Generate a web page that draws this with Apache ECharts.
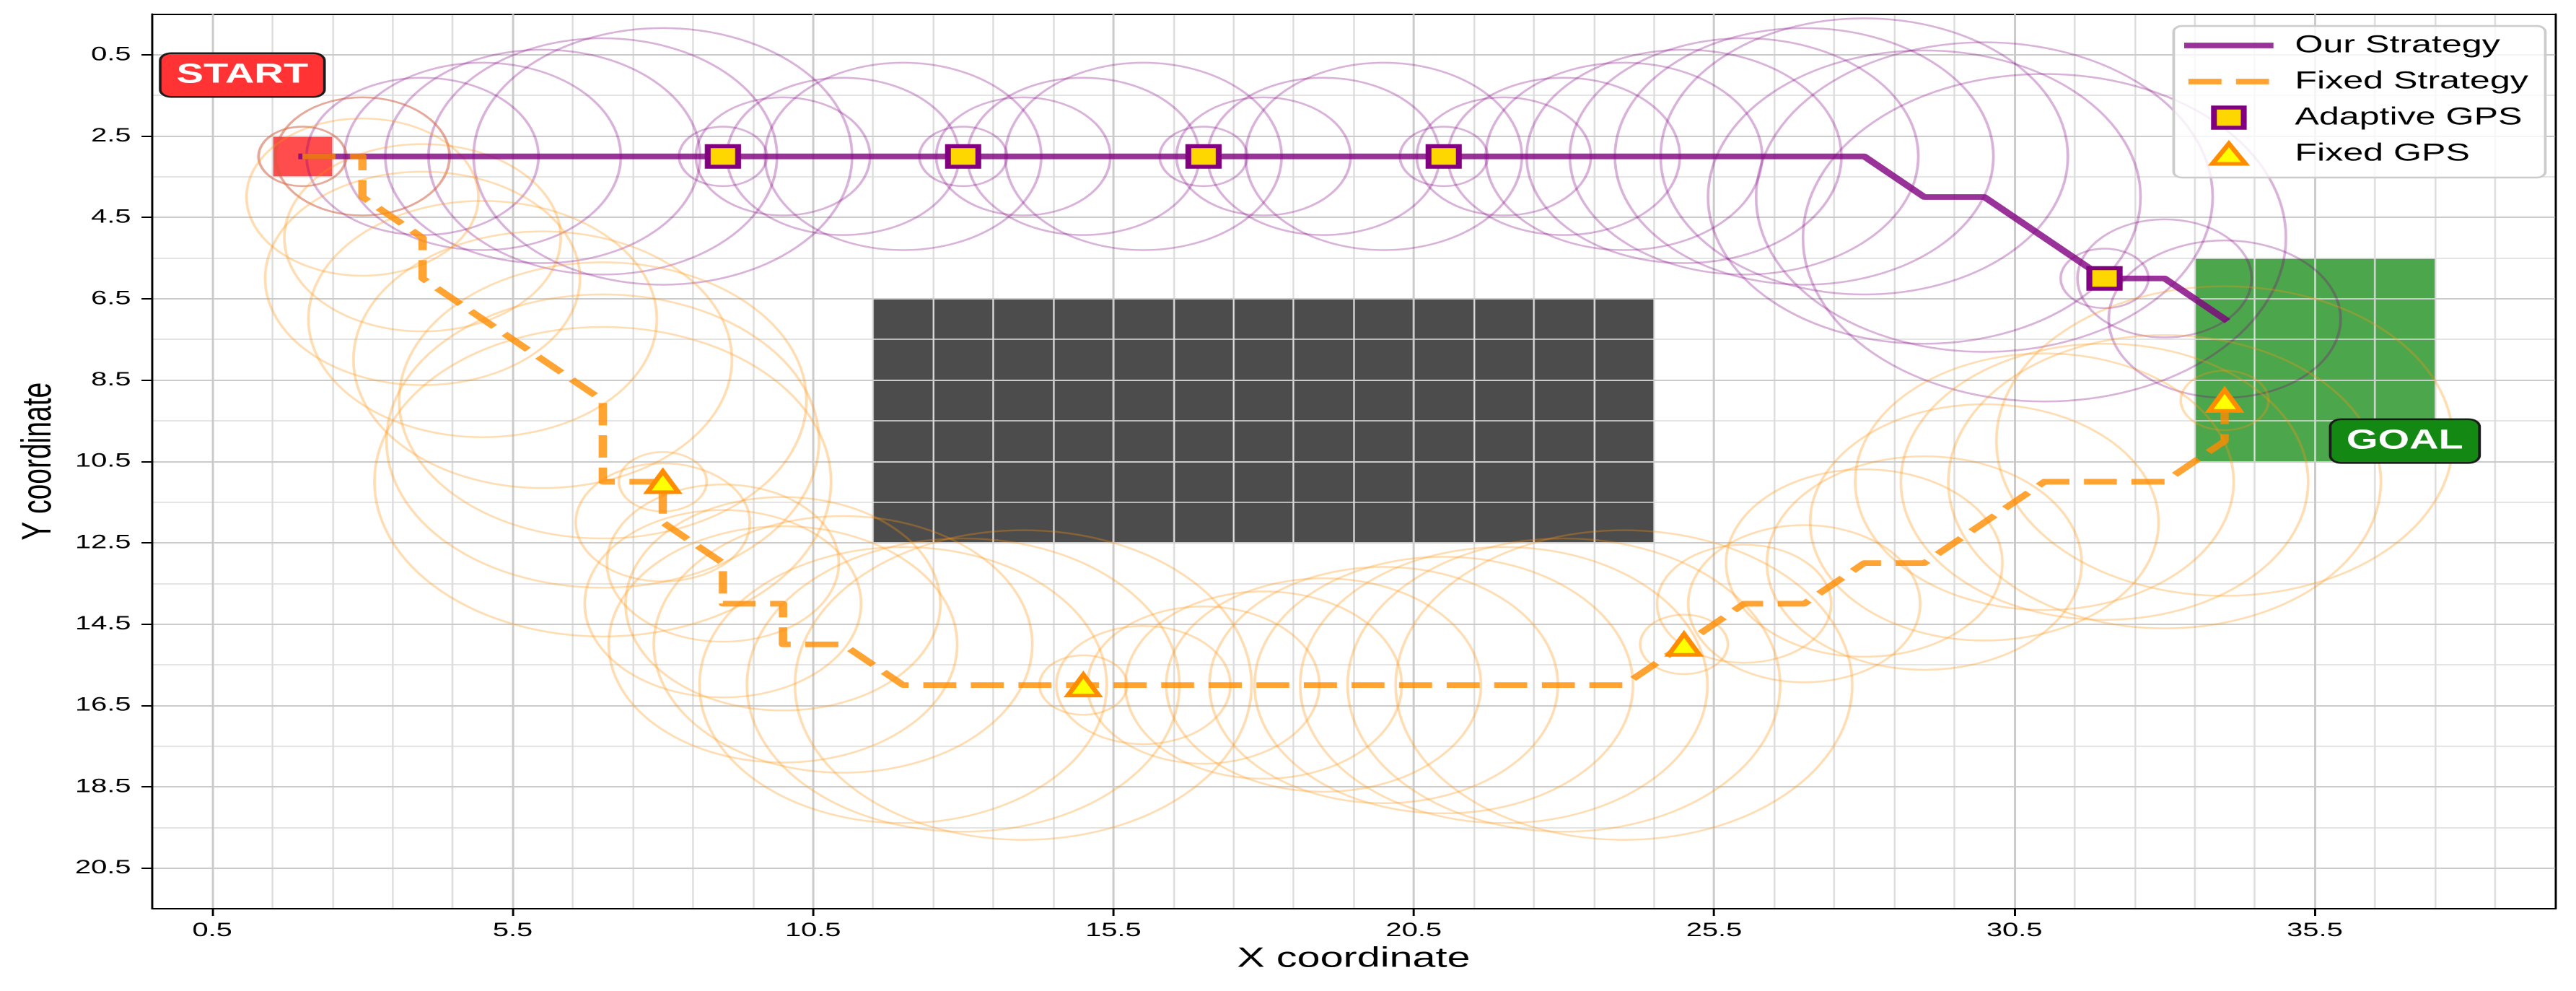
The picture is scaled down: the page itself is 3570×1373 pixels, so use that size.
<!DOCTYPE html>
<html>
<head>
<meta charset="utf-8">
<script src="https://cdn.jsdelivr.net/npm/echarts@6/dist/echarts.min.js"></script>
<style>
html, body { margin:0; padding:0; background:#fff; overflow:hidden; }
#stage { width:3570px; height:1373px; overflow:hidden; }
/* the reference is stretched sideways, so the chart is drawn narrower and widened */
#chart { width:2420px; height:1373px; transform:scaleX(1.475207); transform-origin:0 0; }
</style>
</head>
<body>
<div id="stage"><div id="chart"></div></div>
<script>
var FONT = '"Liberation Sans", Arial, Helvetica, sans-serif';

// tick labels
var xTicks = [0.5, 5.5, 10.5, 15.5, 20.5, 25.5, 30.5, 35.5];
var yTicks = [0.5, 2.5, 4.5, 6.5, 8.5, 10.5, 12.5, 14.5, 16.5, 18.5, 20.5];

// map cells
var obstacleCols = [12, 13, 14, 15, 16, 17, 18, 19, 20, 21, 22, 23, 24];
var obstacleRows = [7, 8, 9, 10, 11, 12];
var goalCols = [34, 35, 36, 37];
var goalRows = [6, 7, 8, 9, 10];
var startCell = [[2, 3]];

// paths
var ourPath = [[2,3],[3,3],[4,3],[5,3],[6,3],[7,3],[8,3],[9,3],[10,3],[11,3],[12,3],[13,3],[14,3],
  [15,3],[16,3],[17,3],[18,3],[19,3],[20,3],[21,3],[22,3],[23,3],[24,3],[25,3],[26,3],[27,3],[28,3],
  [29,4],[30,4],[31,5],[32,6],[33,6],[34,7]];
var ourRadius = [0.73,1.45,1.93,2.3,2.62,2.9,3.15, 0.73,1.45,1.93,2.3, 0.73,1.45,1.93,2.3,
  0.73,1.45,1.93,2.3, 0.73,1.45,1.93,2.3,2.62,2.9,3.15,3.39,3.6,3.8,4.02, 0.73,1.45,1.93];

var fixedPath = [[2,3],[3,3],[3,4],[4,5],[4,6],[5,7],[6,8],[7,9],[7,10],[7,11],[8,11],[8,12],[9,13],
  [9,14],[10,14],[10,15],[11,15],[12,16],[13,16],[14,16],[15,16],[16,16],[17,16],[18,16],[19,16],
  [20,16],[21,16],[22,16],[23,16],[24,16],[25,15],[26,14],[27,14],[28,13],[29,13],[30,12],[31,11],
  [32,11],[33,11],[34,10],[34,9]];
var fixedRadius = [0.73,1.45,1.93,2.3,2.62,2.9,3.15,3.39,3.6,3.8,
  0.73,1.45,1.93,2.3,2.62,2.9,3.15,3.39,3.6,3.8,
  0.73,1.45,1.93,2.3,2.62,2.9,3.15,3.39,3.6,3.8,
  0.73,1.45,1.93,2.3,2.62,2.9,3.15,3.39,3.6,3.8,
  0.73];

// GPS fixes
var adaptiveGps = [[9,3],[13,3],[17,3],[21,3],[32,6]];
var fixedGps = [[8,11],[15,16],[25,15],[34,9]];

// text tags
var tagNames = ['START', 'GOAL'];
var tagPos = [[1, 1], [37, 10]];

function cells(cols, rows) {
  var out = [];
  rows.forEach(function (r) {
    cols.forEach(function (c) { out.push([c, r]); });
  });
  return out;
}
function rings(path, radius) {
  return path.map(function (p, i) { return [p[0], p[1], radius[i]]; });
}

function cellRender(params, api) {
  var c = api.coord([api.value(0), api.value(1)]);
  var s = api.size([1, 1]);
  return {
    type: 'rect',
    shape: { x: c[0] - s[0] / 2, y: c[1] - s[1] / 2, width: s[0], height: s[1] },
    style: { fill: api.visual('color') }
  };
}
function ringRender(params, api) {
  var c = api.coord([api.value(0), api.value(1)]);
  var r = api.size([api.value(2), 0])[0];
  return {
    type: 'circle',
    shape: { cx: c[0], cy: c[1], r: r },
    style: { fill: 'none', stroke: api.visual('color'), lineWidth: 2.5 }
  };
}

var tagStyles = {
  START: { backgroundColor: '#FF3333' },
  GOAL: { backgroundColor: '#138813' }
};

var chart = echarts.init(document.getElementById('chart'), null, { renderer: 'canvas', devicePixelRatio: 2 });

chart.setOption({
  animation: false,
  backgroundColor: '#fff',
  grid: { left: 143, right: 19.7, top: 19.5, bottom: 114 },
  legend: {
    data: [
      { name: 'Our Strategy', itemStyle: { opacity: 0 }, lineStyle: { width: 7.8 } },
      { name: 'Fixed Strategy', itemStyle: { opacity: 0 }, lineStyle: { width: 7.8 } },
      { name: 'Adaptive GPS', icon: 'path://M0,0L10,0L10,10L0,10Z', itemStyle: { borderWidth: 5.5 } },
      { name: 'Fixed GPS', icon: 'path://M5,0L10,9L0,9Z', itemStyle: { borderWidth: 5 } }
    ],
    orient: 'vertical',
    left: 2042,
    top: 36,
    padding: [10, 16, 16, 10],
    itemWidth: 76,
    itemHeight: 28,
    itemGap: 16,
    selectedMode: false,
    backgroundColor: 'rgba(255,255,255,0.8)',
    borderColor: '#cccccc',
    borderWidth: 2.5,
    borderRadius: 8,
    textStyle: { fontSize: 34, color: '#000', fontFamily: FONT, padding: [0, 0, 0, 19] },
    z: 20
  },
  xAxis: [
    {
      type: 'value', min: -0.5, max: 39.5, interval: 1, position: 'bottom', z: 3,
      name: 'X coordinate', nameLocation: 'middle', nameGap: 50,
      nameTextStyle: { fontSize: 39, color: '#000', fontFamily: FONT },
      axisLine: { show: true, onZero: false, lineStyle: { color: '#000', width: 2 } },
      axisTick: { show: true, customValues: xTicks, length: 10, lineStyle: { color: '#000', width: 2 } },
      axisLabel: { customValues: xTicks, fontSize: 27, color: '#000', margin: 17, fontFamily: FONT },
      splitLine: { show: true, lineStyle: { color: '#cbcbcb', width: 2 } }
    },
    {
      type: 'value', min: -0.5, max: 39.5, interval: 1, position: 'top', z: 2,
      axisLine: { show: true, onZero: false, lineStyle: { color: '#000', width: 2 } },
      axisTick: { show: false }, axisLabel: { show: false },
      splitLine: { show: true, lineStyle: { color: '#dcdcdc', width: 1.6 } }
    }
  ],
  yAxis: [
    {
      type: 'value', inverse: true, min: -0.5, max: 21.5, interval: 1, position: 'left', z: 3,
      name: 'Y coordinate', nameLocation: 'middle', nameGap: 87, nameRotate: 90,
      nameTextStyle: { fontSize: 39, color: '#000', fontFamily: FONT },
      axisLine: { show: true, onZero: false, lineStyle: { color: '#000', width: 2 } },
      axisTick: { show: true, customValues: yTicks, length: 10, lineStyle: { color: '#000', width: 2 } },
      axisLabel: { customValues: yTicks, fontSize: 27, color: '#000', margin: 20, fontFamily: FONT },
      splitLine: { show: true, lineStyle: { color: '#cbcbcb', width: 2 } }
    },
    {
      type: 'value', inverse: true, min: -0.5, max: 21.5, interval: 1, position: 'right', z: 2,
      axisLine: { show: true, onZero: false, lineStyle: { color: '#000', width: 2 } },
      axisTick: { show: false }, axisLabel: { show: false },
      splitLine: { show: true, lineStyle: { color: '#dcdcdc', width: 1.6 } }
    }
  ],
  series: [
    { name: 'obstacle', type: 'custom', z: 1, renderItem: cellRender, itemStyle: { color: 'rgba(0,0,0,0.7)' },
      encode: { x: 0, y: 1 }, data: cells(obstacleCols, obstacleRows), silent: true },
    { name: 'goalArea', type: 'custom', z: 1, renderItem: cellRender, itemStyle: { color: 'rgba(0,128,0,0.7)' },
      encode: { x: 0, y: 1 }, data: cells(goalCols, goalRows), silent: true },
    { name: 'startCell', type: 'custom', z: 1, renderItem: cellRender, itemStyle: { color: 'rgba(255,0,0,0.7)' },
      encode: { x: 0, y: 1 }, data: startCell, silent: true },
    { name: 'ourRange', type: 'custom', z: 4, renderItem: ringRender, itemStyle: { color: 'rgba(128,0,128,0.3)' },
      encode: { x: 0, y: 1 }, data: rings(ourPath, ourRadius), silent: true, clip: true },
    { name: 'fixedRange', type: 'custom', z: 4, renderItem: ringRender, itemStyle: { color: 'rgba(255,150,20,0.32)' },
      encode: { x: 0, y: 1 }, data: rings(fixedPath, fixedRadius), silent: true, clip: true },
    {
      name: 'Our Strategy', type: 'line', z: 5, data: ourPath, symbol: 'none',
      itemStyle: { color: 'rgba(128,0,128,0.8)' },
      lineStyle: { color: 'rgba(128,0,128,0.8)', width: 7.8, cap: 'square', join: 'round' }
    },
    {
      name: 'Fixed Strategy', type: 'line', z: 6, data: fixedPath, symbol: 'none',
      itemStyle: { color: 'rgba(255,140,0,0.8)' },
      lineStyle: { color: 'rgba(255,140,0,0.8)', width: 7.8, type: [31, 13.7], cap: 'butt', join: 'round' }
    },
    {
      name: 'Adaptive GPS', type: 'scatter', z: 7, data: adaptiveGps, symbol: 'rect', symbolSize: 28.5,
      itemStyle: { color: '#FFD700', borderColor: '#800080', borderWidth: 5.5, opacity: 1 }
    },
    {
      name: 'Fixed GPS', type: 'scatter', z: 7, data: fixedGps, symbol: 'triangle', symbolSize: 29,
      itemStyle: { color: '#FFFF00', borderColor: '#FF8C00', borderWidth: 5, opacity: 1 }
    },
    {
      name: 'tags', type: 'scatter', z: 9, symbol: 'rect', symbolSize: 1,
      itemStyle: { color: 'rgba(0,0,0,0)' },
      data: tagNames.map(function (n, i) {
        return {
          name: n, value: tagPos[i],
          label: Object.assign({
            show: true, position: 'inside', formatter: n, opacity: 1,
            color: '#ffffff', fontSize: 38, fontWeight: 'bold', fontFamily: FONT,
            borderColor: '#1a1a1a', borderWidth: 2.5, borderRadius: 9, padding: [11, 14, 9, 14]
          }, tagStyles[n])
        };
      })
    }
  ]
});
</script>
</body>
</html>
